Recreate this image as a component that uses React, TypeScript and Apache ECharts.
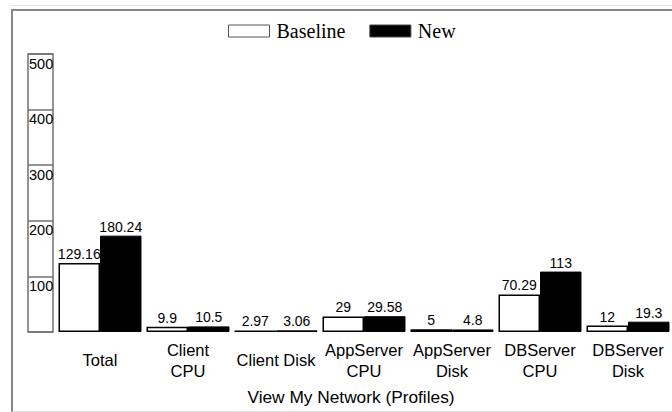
import React, { useEffect, useRef } from "react";
import * as echarts from "echarts";

const categories = [
  "Total",
  "Client\nCPU",
  "Client Disk",
  "AppServer\nCPU",
  "AppServer\nDisk",
  "DBServer\nCPU",
  "DBServer\nDisk",
];
const baselineValues = [129.16, 9.9, 2.97, 29, 5, 70.29, 12];
const newValues = [180.24, 10.5, 3.06, 29.58, 4.8, 113, 19.3];
const axisTicks = [0, 100, 200, 300, 400, 500];
const xAxisName = "View My Network (Profiles)";

const SANS = "'Liberation Sans', Arial, sans-serif";
const SERIF = "'Liberation Serif', 'Times New Roman', serif";

export default function App() {
  const ref = useRef<HTMLDivElement>(null);

  useEffect(() => {
    if (!ref.current) return;
    const chart = echarts.init(ref.current, null, { renderer: "svg" });
    const tickMax = axisTicks[axisTicks.length - 1];
    const tickInterval = axisTicks[1] - axisTicks[0];
    const boxColor = "#707070";
    chart.setOption({
      animation: false,
      backgroundColor: "transparent",
      legend: {
        left: 228,
        top: 21,
        padding: 0,
        icon: "rect",
        itemWidth: 41,
        itemHeight: 12,
        itemGap: 24,
        textStyle: {
          fontFamily: SERIF,
          fontSize: 20,
          color: "#000",
          padding: [0, 0, 0, 2],
        },
        data: [
          {
            name: "Baseline",
            itemStyle: { color: "#fff", borderColor: "#555", borderWidth: 1 },
          },
          {
            name: "New",
            itemStyle: { color: "#000", borderColor: "#444", borderWidth: 1 },
          },
        ],
      },
      grid: [
        { left: 56, top: 54, width: 624, height: 278 },
        {
          left: 28,
          top: 54,
          width: 25,
          height: 278,
          show: true,
          backgroundColor: "transparent",
          borderColor: boxColor,
          borderWidth: 1.5,
        },
      ],
      xAxis: [
        {
          type: "category",
          gridIndex: 0,
          data: categories,
          axisLine: { show: false },
          axisTick: { show: false },
          axisLabel: {
            interval: 0,
            fontFamily: SANS,
            fontSize: 16.5,
            lineHeight: 21,
            color: "#000",
            verticalAlign: "middle",
            margin: 28,
          },
          name: xAxisName,
          nameLocation: "middle",
          nameGap: 65,
          nameTextStyle: {
            fontFamily: SANS,
            fontSize: 17.3,
            color: "#000",
            verticalAlign: "middle",
            padding: [0, 26, 0, 0],
          },
        },
        { type: "value", gridIndex: 1, show: false },
      ],
      yAxis: [
        {
          type: "value",
          gridIndex: 0,
          min: 0,
          max: 520,
          show: false,
        },
        {
          type: "value",
          gridIndex: 1,
          min: 0,
          max: tickMax,
          interval: tickInterval,
          axisLine: { show: false },
          axisTick: { show: false },
          splitLine: { show: true, lineStyle: { color: boxColor, width: 1.5 } },
          axisLabel: {
            inside: true,
            showMinLabel: false,
            showMaxLabel: true,
            align: "left",
            verticalAlign: "top",
            margin: 1,
            padding: [2, 0, 0, 0],
            fontFamily: SANS,
            fontSize: 14.5,
            color: "#000",
          },
        },
      ],
      series: [
        {
          name: "Baseline",
          type: "bar",
          xAxisIndex: 0,
          yAxisIndex: 0,
          data: baselineValues,
          barWidth: 41.5,
          barGap: "0%",
          itemStyle: { color: "#fff", borderColor: "#000", borderWidth: 1.5 },
          label: {
            show: true,
            position: "top",
            distance: 2,
            fontFamily: SANS,
            fontSize: 14,
            color: "#000",
          },
        },
        {
          name: "New",
          type: "bar",
          xAxisIndex: 0,
          yAxisIndex: 0,
          data: newValues,
          barWidth: 41.5,
          barGap: "0%",
          itemStyle: { color: "#000", borderColor: "#000", borderWidth: 1 },
          label: {
            show: true,
            position: "top",
            distance: 2,
            fontFamily: SANS,
            fontSize: 14,
            color: "#000",
          },
        },
      ],
    });
    return () => chart.dispose();
  }, []);

  return (
    <div
      style={{
        position: "fixed",
        left: 0,
        top: 0,
        width: 672,
        height: 412,
        overflow: "hidden",
        background: "#fff",
      }}
    >
      <div
        style={{
          position: "absolute",
          left: 11,
          top: 5,
          width: 700,
          height: 1,
          background: "#e2e2e2",
        }}
      />
      <div
        style={{
          position: "absolute",
          left: 11,
          top: 9,
          width: 700,
          height: 400,
          borderTop: "2px solid #888",
          borderLeft: "2px solid #888",
          borderBottom: "1px solid #ddd",
        }}
      />
      <div
        ref={ref}
        style={{ position: "absolute", left: 0, top: 0, width: 672, height: 412 }}
      />
    </div>
  );
}
